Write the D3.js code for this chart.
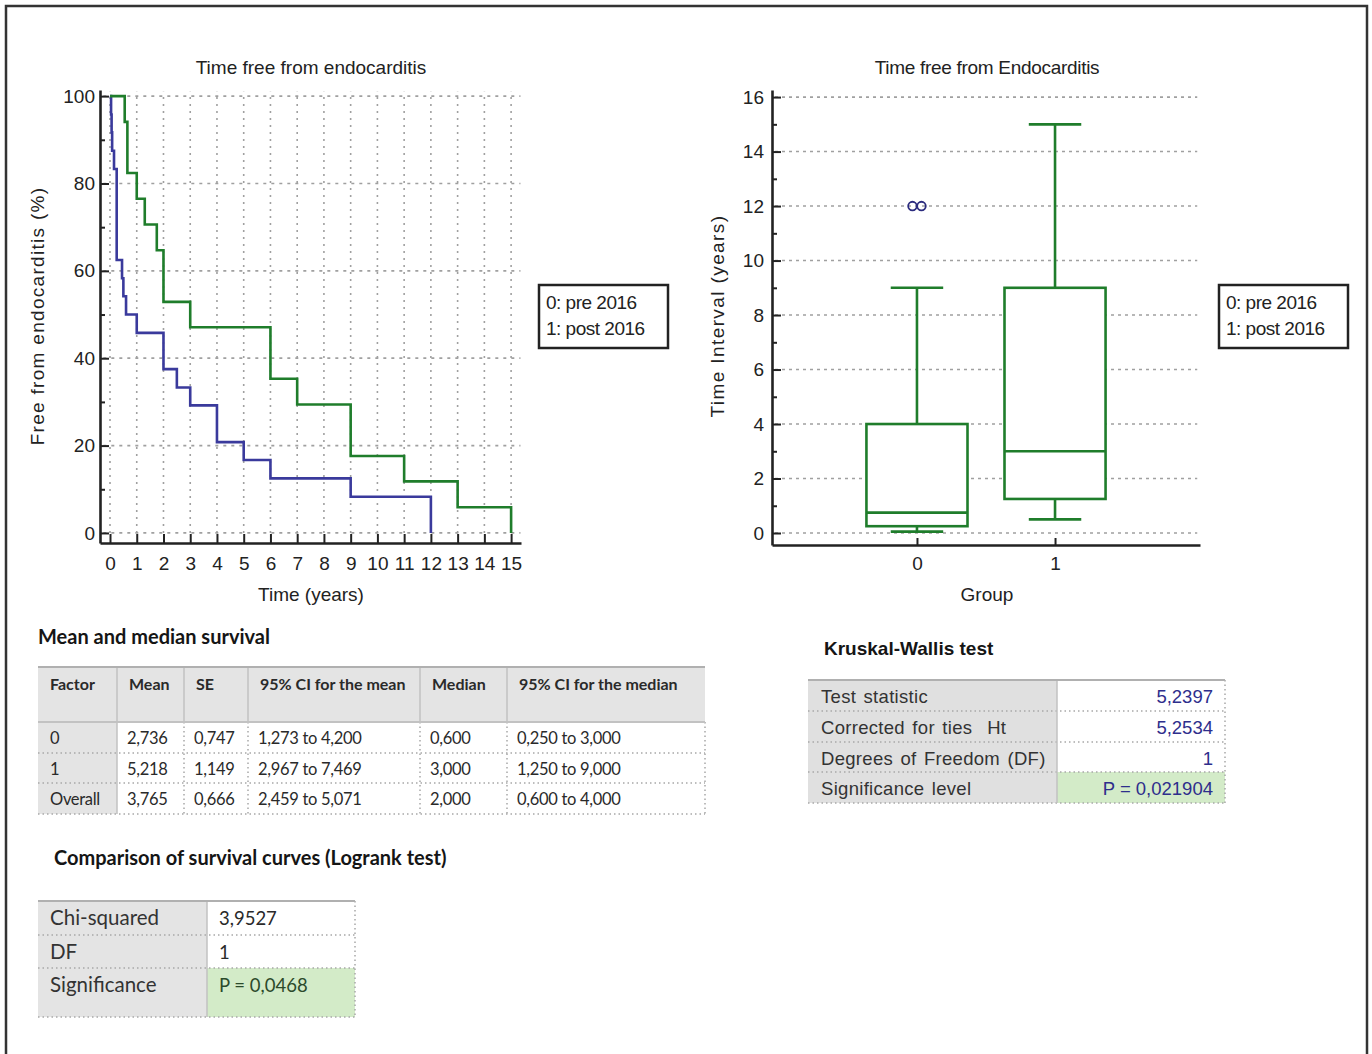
<!DOCTYPE html>
<html lang="en">
<head>
<meta charset="utf-8">
<title>Time free from endocarditis</title>
<script src="https://d3js.org/d3.v7.min.js"></script>
<style>
  body { margin: 0; background: #fff; }
  svg { display: block; }
  .chart text { font-family: 'Liberation Sans', Arial, sans-serif; fill: #222; font-size: 19px; }
  .tbl text { font-family: Lato, sans-serif; fill: #2a2a2a; }
  .kw text { font-family: 'Liberation Sans', Arial, sans-serif; fill: #333; }
</style>
</head>
<body>
<script>

// Kaplan-Meier curves, group 0 = pre 2016, group 1 = post 2016
var kmTime0 = [0, 0.04, 0.06, 0.08, 0.15, 0.25, 0.45, 0.5, 0.6, 1, 2, 2.5, 3, 4, 5, 6, 9, 12];
var kmSurv0 = [100, 95.8, 91.7, 87.5, 83.3, 62.5, 58.3, 54.2, 50, 45.8, 37.5, 33.3, 29.2, 20.8, 16.7, 12.5, 8.3, 0];
var kmTime1 = [0, 0.55, 0.65, 1, 1.3, 1.75, 2, 3, 6, 7, 9, 11, 13, 15];
var kmSurv1 = [100, 94.1, 82.4, 76.5, 70.6, 64.7, 52.9, 47.1, 35.3, 29.4, 17.6, 11.8, 5.9, 0];
var kmXTicks = d3.range(0, 16);
var kmYTicks = [0, 20, 40, 60, 80, 100];
var legendLines = ["0: pre 2016", "1: post 2016"];

// box plot
var boxGroups = [0, 1];
var boxLow = [0.05, 0.5];
var boxQ1 = [0.25, 1.25];
var boxMedian = [0.75, 3];
var boxQ3 = [4, 9];
var boxHigh = [9, 15];
var outlierGroup = [0, 0];
var outlierValue = [12, 12];
var boxYTicks = [0, 2, 4, 6, 8, 10, 12, 14, 16];

// tables
var survHeader = ["Factor", "Mean", "SE", "95% CI for the mean", "Median", "95% CI for the median"];
var survFactor = ["0", "1", "Overall"];
var survMean = ["2,736", "5,218", "3,765"];
var survSE = ["0,747", "1,149", "0,666"];
var survCIMean = ["1,273 to 4,200", "2,967 to 7,469", "2,459 to 5,071"];
var survMedian = ["0,600", "3,000", "2,000"];
var survCIMedian = ["0,250 to 3,000", "1,250 to 9,000", "0,600 to 4,000"];

var logrankLabels = ["Chi-squared", "DF", "Significance"];
var logrankValues = ["3,9527", "1", "P = 0,0468"];

var kwLabels = ["Test statistic", "Corrected for ties  Ht", "Degrees of Freedom (DF)", "Significance level"];
var kwValues = ["5,2397", "5,2534", "1", "P = 0,021904"];

var green = "#1f7d2b";
var blue = "#3a3a9c";
var gridCol = "#a0a0a0";
var axisCol = "#222";

var svg = d3.select("body").append("svg")
            .attr("width", 1372)
            .attr("height", 1054);

// outer frame
svg.append("rect")
   .attr("x", 6).attr("y", 6)
   .attr("width", 1361).attr("height", 1080)
   .attr("fill", "none")
   .attr("stroke", "#333")
   .attr("stroke-width", 2.5);

function styleAxis(g) {
  g.attr("font-size", null).attr("font-family", null);
  g.select(".domain").attr("stroke", axisCol).attr("stroke-width", 2.6);
  g.selectAll(".tick line").attr("stroke", axisCol).attr("stroke-width", 2);
}

//---------------- Kaplan-Meier ----------------
var kmX = d3.scaleLinear().domain([-0.374, 15.37]).range([100, 521]);
var kmY = d3.scaleLinear().domain([-2.3, 101.4]).range([543, 90]);
var km = svg.append("g").attr("class", "chart");

km.append("g").selectAll("line")
  .data(kmXTicks)
  .join("line")
  .attr("x1", function(d) { return kmX(d); })
  .attr("x2", function(d) { return kmX(d); })
  .attr("y1", kmY(0))
  .attr("y2", kmY(101))
  .attr("stroke", gridCol)
  .attr("stroke-width", 1.6)
  .attr("stroke-dasharray", "2,5");

km.append("g").selectAll("line")
  .data(kmYTicks)
  .join("line")
  .attr("x1", kmX(-0.25))
  .attr("x2", kmX(15.35))
  .attr("y1", function(d) { return kmY(d); })
  .attr("y2", function(d) { return kmY(d); })
  .attr("stroke", gridCol)
  .attr("stroke-width", 1.7)
  .attr("stroke-dasharray", "3,5");

var step = d3.line()
             .curve(d3.curveStepAfter)
             .x(function(d) { return kmX(d[0]); })
             .y(function(d) { return kmY(d[1]); });

km.append("path")
  .datum(d3.zip(kmTime0, kmSurv0))
  .attr("d", step)
  .attr("fill", "none")
  .attr("stroke", blue)
  .attr("stroke-width", 2.6);

km.append("path")
  .datum(d3.zip(kmTime1, kmSurv1))
  .attr("d", step)
  .attr("fill", "none")
  .attr("stroke", green)
  .attr("stroke-width", 2.6);

km.append("g")
  .attr("transform", "translate(0,543)")
  .call(d3.axisBottom(kmX).tickValues(kmXTicks).tickSizeInner(-9).tickSizeOuter(0).tickPadding(14))
  .call(styleAxis);

km.append("g")
  .attr("transform", "translate(100,0)")
  .call(d3.axisLeft(kmY).tickValues(d3.range(10, 100, 20)).tickSizeInner(-5).tickSizeOuter(0).tickFormat(""))
  .call(styleAxis)
  .select(".domain").remove();

km.append("g")
  .attr("transform", "translate(100,0)")
  .call(d3.axisLeft(kmY).tickValues(kmYTicks).tickSizeInner(-9).tickSizeOuter(0).tickPadding(5))
  .call(styleAxis);

km.append("text")
  .attr("x", 311).attr("y", 74)
  .attr("text-anchor", "middle")
  .text("Time free from endocarditis");

km.append("text")
  .attr("x", 311).attr("y", 601)
  .attr("text-anchor", "middle")
  .text("Time (years)");

km.append("text")
  .attr("transform", "translate(44,316) rotate(-90)")
  .attr("text-anchor", "middle")
  .style("letter-spacing", "1.3px")
  .text("Free from endocarditis (%)");

function legend(g, x, y) {
  g.append("rect")
   .attr("x", x).attr("y", y)
   .attr("width", 129).attr("height", 63)
   .attr("fill", "#fff")
   .attr("stroke", "#222")
   .attr("stroke-width", 2.5);
  g.selectAll(null)
   .data(legendLines)
   .join("text")
   .attr("x", x + 7)
   .attr("y", function(d, i) { return y + 24 + i * 26; })
   .style("letter-spacing", "-0.5px")
   .text(function(d) { return d; });
}
legend(km, 539, 285);

//---------------- Box plot ----------------
var bx = d3.scaleLinear().domain([-1.05, 2.05]).range([772, 1200]);
var by = d3.scaleLinear().domain([-0.44, 16.26]).range([545, 90]);
var bp = svg.append("g").attr("class", "chart");

bp.append("g").selectAll("line")
  .data(boxYTicks)
  .join("line")
  .attr("x1", 775)
  .attr("x2", bx(2.03))
  .attr("y1", function(d) { return by(d); })
  .attr("y2", function(d) { return by(d); })
  .attr("stroke", gridCol)
  .attr("stroke-width", 1.6)
  .attr("stroke-dasharray", "3,4");

var boxes = boxGroups.map(function(g, i) {
  return { g: g, lo: boxLow[i], q1: boxQ1[i], med: boxMedian[i], q3: boxQ3[i], hi: boxHigh[i] };
});
var halfBox = 0.366, halfCap = 0.19;

var bg = bp.append("g").selectAll("g").data(boxes).join("g")
           .attr("stroke", green).attr("stroke-width", 2.6).attr("fill", "none");

bg.append("line")
  .attr("x1", function(d) { return bx(d.g); }).attr("x2", function(d) { return bx(d.g); })
  .attr("y1", function(d) { return by(d.lo); }).attr("y2", function(d) { return by(d.q1); });
bg.append("line")
  .attr("x1", function(d) { return bx(d.g); }).attr("x2", function(d) { return bx(d.g); })
  .attr("y1", function(d) { return by(d.q3); }).attr("y2", function(d) { return by(d.hi); });
bg.append("line")
  .attr("x1", function(d) { return bx(d.g - halfCap); }).attr("x2", function(d) { return bx(d.g + halfCap); })
  .attr("y1", function(d) { return by(d.lo); }).attr("y2", function(d) { return by(d.lo); });
bg.append("line")
  .attr("x1", function(d) { return bx(d.g - halfCap); }).attr("x2", function(d) { return bx(d.g + halfCap); })
  .attr("y1", function(d) { return by(d.hi); }).attr("y2", function(d) { return by(d.hi); });
bg.append("rect")
  .attr("x", function(d) { return bx(d.g - halfBox); })
  .attr("width", function(d) { return bx(d.g + halfBox) - bx(d.g - halfBox); })
  .attr("y", function(d) { return by(d.q3); })
  .attr("height", function(d) { return by(d.q1) - by(d.q3); })
  .attr("fill", "#fff");
bg.append("line")
  .attr("x1", function(d) { return bx(d.g - halfBox); }).attr("x2", function(d) { return bx(d.g + halfBox); })
  .attr("y1", function(d) { return by(d.med); }).attr("y2", function(d) { return by(d.med); });

// two outliers at the same value sit side by side
bp.append("g").selectAll("circle")
  .data(d3.zip(outlierGroup, outlierValue))
  .join("circle")
  .attr("cx", function(d, i) { return bx(d[0]) + (i === 0 ? -4.5 : 4.5); })
  .attr("cy", function(d) { return by(d[1]); })
  .attr("r", 4.3)
  .attr("fill", "none")
  .attr("stroke", "#2b2b7e")
  .attr("stroke-width", 1.8);

bp.append("g")
  .attr("transform", "translate(0,545)")
  .call(d3.axisBottom(bx).tickValues(boxGroups).tickFormat(d3.format("d"))
          .tickSizeInner(-7).tickSizeOuter(0).tickPadding(12))
  .call(styleAxis);

bp.append("g")
  .attr("transform", "translate(772,0)")
  .call(d3.axisLeft(by).tickValues(d3.range(1, 16, 2)).tickSizeInner(-5).tickSizeOuter(0).tickFormat(""))
  .call(styleAxis)
  .select(".domain").remove();

bp.append("g")
  .attr("transform", "translate(772,0)")
  .call(d3.axisLeft(by).tickValues(boxYTicks).tickSizeInner(-9).tickSizeOuter(0).tickPadding(8))
  .call(styleAxis);

bp.append("text")
  .attr("x", 987).attr("y", 74)
  .attr("text-anchor", "middle")
  .style("letter-spacing", "-0.3px")
  .text("Time free from Endocarditis");

bp.append("text")
  .attr("x", 987).attr("y", 601)
  .attr("text-anchor", "middle")
  .text("Group");

bp.append("text")
  .attr("transform", "translate(724,316) rotate(-90)")
  .attr("text-anchor", "middle")
  .style("letter-spacing", "1.4px")
  .text("Time Interval (years)");

legend(bp, 1219, 285);

//---------------- Tables ----------------
var lightGray = "#e4e4e4";
var sepCol = "#c2c2c2";
var dotCol = "#a8a8a8";
var sigGreen = "#d3ebc8";

function hline(g, x1, x2, y, col, w, dash) {
  g.append("line").attr("x1", x1).attr("x2", x2).attr("y1", y).attr("y2", y)
   .attr("stroke", col).attr("stroke-width", w).attr("stroke-dasharray", dash || null);
}
function vline(g, x, y1, y2, col, w, dash) {
  g.append("line").attr("x1", x).attr("x2", x).attr("y1", y1).attr("y2", y2)
   .attr("stroke", col).attr("stroke-width", w).attr("stroke-dasharray", dash || null);
}

// Mean and median survival
var t1 = svg.append("g").attr("class", "tbl");
var t1Cols = [38, 117, 184, 248, 420, 507, 705];
var t1Rows = [722, 753, 783, 814];
var t1Data = survFactor.map(function(f, i) {
  return [f, survMean[i], survSE[i], survCIMean[i], survMedian[i], survCIMedian[i]];
});

t1.append("text").attr("x", 38).attr("y", 644)
  .style("font-weight", "bold").style("font-size", "20px").style("fill", "#151515")
  .text("Mean and median survival");

t1.append("rect").attr("x", 38).attr("y", 667).attr("width", 667).attr("height", 55).attr("fill", lightGray);
t1.append("rect").attr("x", 38).attr("y", 722).attr("width", 79).attr("height", 92).attr("fill", lightGray);
t1Rows.slice(1).forEach(function(y) { hline(t1, 38, 705, y, dotCol, 1.5, "1.5,3"); });
t1Cols.slice(2).forEach(function(x) { vline(t1, x, 722, 814, dotCol, 1.5, "1.5,3"); });
t1Cols.slice(1, 6).forEach(function(x) { vline(t1, x, 667, 722, sepCol, 1.5); });
vline(t1, 117, 722, 814, sepCol, 1.5);
hline(t1, 38, 705, 667, "#b0b0b0", 2);
hline(t1, 38, 705, 722, sepCol, 2);

t1.selectAll(null).data(survHeader).join("text")
  .attr("x", function(d, i) { return t1Cols[i] + 12; })
  .attr("y", 690)
  .style("font-weight", "bold").style("font-size", "16px")
  .text(function(d) { return d; });

t1.selectAll(null).data(t1Data).join("g")
  .attr("transform", function(d, i) { return "translate(0," + (t1Rows[i] + 22) + ")"; })
  .selectAll("text").data(function(d) { return d; }).join("text")
  .attr("x", function(d, i) { return t1Cols[i] + (i === 0 ? 12 : 10); })
  .style("font-size", "16.5px").style("letter-spacing", "-0.3px")
  .text(function(d) { return d; });

// Logrank test
var t2 = svg.append("g").attr("class", "tbl");
var t2Cols = [38, 207, 355];
var t2Rows = [901, 935, 968, 1017];

t2.append("text").attr("x", 54).attr("y", 865)
  .style("font-weight", "bold").style("font-size", "20px").style("fill", "#151515")
  .text("Comparison of survival curves (Logrank test)");

t2.append("rect").attr("x", 38).attr("y", 901).attr("width", 169).attr("height", 116).attr("fill", lightGray);
t2.append("rect").attr("x", 207).attr("y", 968).attr("width", 148).attr("height", 49).attr("fill", sigGreen);
t2Rows.slice(1).forEach(function(y) { hline(t2, 38, 355, y, dotCol, 1.5, "1.5,3"); });
vline(t2, 355, 901, 1017, dotCol, 1.5, "1.5,3");
vline(t2, 207, 901, 1017, sepCol, 1.5);
hline(t2, 38, 355, 901, "#b0b0b0", 2);

t2.selectAll(null).data(logrankLabels).join("text")
  .attr("x", 50)
  .attr("y", function(d, i) { return t2Rows[i] + 24; })
  .style("font-size", "20.5px").style("fill", "#333")
  .text(function(d) { return d; });
t2.selectAll(null).data(logrankValues).join("text")
  .attr("x", 219)
  .attr("y", function(d, i) { return t2Rows[i] + 24; })
  .style("font-size", "18.5px").style("fill", function(d, i) { return i === 2 ? "#2b4a2b" : "#2a2a2a"; })
  .text(function(d) { return d; });

// Kruskal-Wallis test
var t3 = svg.append("g").attr("class", "kw");
var t3Cols = [808, 1057, 1225];
var t3Rows = [680, 711, 742, 772, 803];

t3.append("text").attr("x", 824).attr("y", 655)
  .style("font-weight", "bold").style("font-size", "19px").style("fill", "#151515")
  .text("Kruskal-Wallis test");

t3.append("rect").attr("x", 808).attr("y", 680).attr("width", 249).attr("height", 123).attr("fill", "#e0e0e0");
t3.append("rect").attr("x", 1057).attr("y", 772).attr("width", 168).attr("height", 31).attr("fill", sigGreen);
t3Rows.slice(1).forEach(function(y) { hline(t3, 808, 1225, y, dotCol, 1.5, "1.5,3"); });
vline(t3, 1225, 680, 803, dotCol, 1.5, "1.5,3");
vline(t3, 1057, 680, 803, sepCol, 1.5);
hline(t3, 808, 1225, 680, "#b0b0b0", 2);

t3.selectAll(null).data(kwLabels).join("text")
  .attr("x", 821)
  .attr("y", function(d, i) { return t3Rows[i] + 23; })
  .style("font-size", "18.5px").style("letter-spacing", "0.3px")
  .style("word-spacing", "2px").style("white-space", "pre")
  .text(function(d) { return d; });
t3.selectAll(null).data(kwValues).join("text")
  .attr("x", 1213)
  .attr("y", function(d, i) { return t3Rows[i] + 23; })
  .attr("text-anchor", "end")
  .style("font-size", "18.5px").style("fill", "#2e2e8c")
  .text(function(d) { return d; });

</script>
</body>
</html>
